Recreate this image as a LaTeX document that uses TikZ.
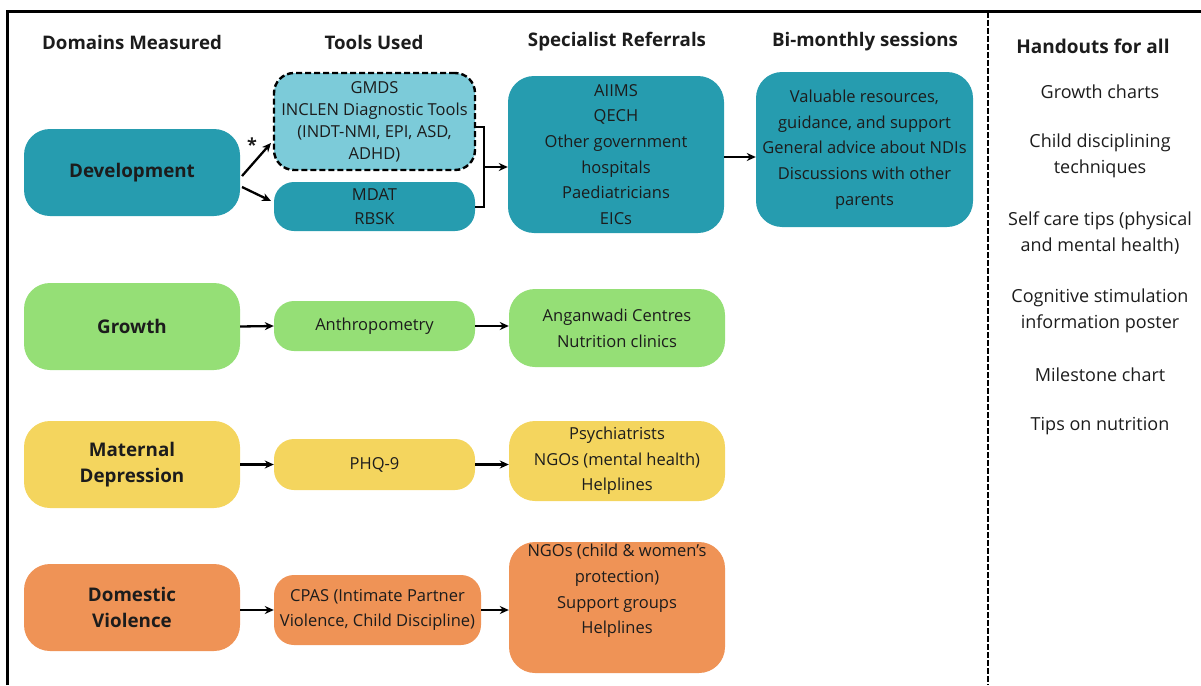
\documentclass[tikz,border=0pt]{standalone}
\usepackage{fontspec}
\setmainfont{Open Sans}
\usetikzlibrary{arrows.meta}
\definecolor{teal1}{HTML}{269CAF}
\definecolor{tealL}{HTML}{7CCBD9}
\definecolor{grn}{HTML}{95DF76}
\definecolor{yel}{HTML}{F4D55E}
\definecolor{org}{HTML}{EF9356}
\definecolor{txt}{HTML}{1C1C1C}
\tikzset{
  box/.style={rounded corners=26pt, inner sep=0pt, align=center, text=txt,
     font=\fontsize{16.5}{25.7}\selectfont},
  dombox/.style={box, minimum width=216pt, minimum height=87pt,
     font=\fontsize{18.8}{26}\selectfont\bfseries},
  toolbox/.style={box, rounded corners=20pt, minimum width=201pt},
  hdr/.style={font=\fontsize{18.7}{22}\selectfont\bfseries, text=txt},
  hand/.style={font=\fontsize{18}{26}\selectfont, text=txt, align=center},
  arr/.style={-{Stealth[length=9pt,width=8pt]}, line width=2.3pt, black},
  brk/.style={line width=2.2pt, black}
}
\begin{document}
\begin{tikzpicture}[x=1pt,y=-1pt]
\useasboundingbox (0,0) rectangle (1201,685);
% frame
\draw[line width=3pt] (7,685) -- (7,12) -- (1201,12);
\draw[line width=2.5pt, dash pattern=on 6pt off 2pt] (988,12) -- (988,685);
% headers
\node[hdr] (h1) at (132,42) {Domains Measured};
\node[hdr] (h2) at (374,42) {Tools Used};
\node[hdr] (h3) at (617,42) {Specialist Referrals};
\node[hdr] (h4) at (865,42) {Bi-monthly sessions};
\node[hdr, font=\fontsize{19}{22}\selectfont\bfseries] (h5) at (1093,46) {Handouts for all};
% handouts
\node[hand] (a1) at (1100,92) {Growth charts};
\node[hand] (a2) at (1100,156) {Child disciplining\\techniques};
\node[hand] (a3) at (1100,233) {Self care tips (physical\\and mental health)};
\node[hand] (a4) at (1100,311) {Cognitive stimulation\\information poster};
\node[hand] (a5) at (1100,375) {Milestone chart};
\node[hand] (a6) at (1100,426) {Tips on nutrition};
% development row
\node[dombox, fill=teal1] (dev) at (132,172.5) {Development};
\node[toolbox, fill=tealL, draw=black, line width=2.4pt, dash pattern=on 6pt off 3pt,
      minimum height=97pt, font=\fontsize{16.5}{22}\selectfont] (gmds) at (374.5,121.5)
      {GMDS\\INCLEN Diagnostic Tools\\(INDT-NMI, EPI, ASD,\\ADHD)};
\node[toolbox, fill=teal1, minimum height=49pt, font=\fontsize{16.5}{24}\selectfont] (mdat) at (374.5,206.5) {MDAT\\RBSK};
\node[box, fill=teal1, minimum width=216pt, minimum height=157pt] (ref) at (616,154.5)
      {AIIMS\\QECH\\Other government\\hospitals\\Paediatricians\\EICs};
\node[box, fill=teal1, minimum width=217pt, minimum height=155pt] (bim) at (864.5,149.5)
      {Valuable resources,\\guidance, and support\\General advice about NDIs\\Discussions with other\\parents};
\coordinate (d1) at (242,176);
\coordinate (d2) at (242,187);
\coordinate (g1) at (271,143);
\coordinate (m1) at (271,201);
\draw[arr] (d1) -- (g1);
\draw[arr] (d2) -- (m1);
\node[font=\fontsize{18}{18}\selectfont\bfseries, text=txt] (star) at (252,145) {*};
\coordinate (bt) at (484,127);
\coordinate (bb) at (484,207);
\coordinate (bm) at (484,167);
\draw[brk] (gmds.east |- bt) -- (bt) -- (bb) -- (mdat.east |- bb);
\draw[arr] (bm) -- (ref.west |- bm);
\coordinate (rb) at (724,157);
\draw[arr] (rb) -- (bim.west |- rb);
% growth row
\node[dombox, fill=grn] (gro) at (132,326.5) {Growth};
\node[toolbox, fill=grn, minimum height=50pt] (ant) at (374.5,326) {Anthropometry};
\node[box, fill=grn, minimum width=216pt, minimum height=78pt] (ang) at (617,328) {Anganwadi Centres\\Nutrition clinics};
\draw[arr] (gro.east) -- (ant.west);
\draw[arr] (ant.east) -- (ang.west |- ant.east);
% maternal row
\node[dombox, fill=yel] (mat) at (132,464.5) {Maternal\\Depression};
\node[toolbox, fill=yel, minimum height=51pt] (phq) at (374.5,464.5) {PHQ-9};
\node[box, fill=yel, minimum width=216pt, minimum height=80pt] (psy) at (617,461) {Psychiatrists\\NGOs (mental health)\\Helplines};
\draw[arr] (mat.east) -- (phq.west);
\draw[arr] (phq.east) -- (psy.west |- phq.east);
% domestic row
\node[dombox, fill=org] (dom) at (132,607.5) {Domestic\\Violence};
\node[toolbox, fill=org, minimum width=207pt, minimum height=70pt] (cpas) at (377.5,610) {CPAS (Intimate Partner\\Violence, Child Discipline)};
\node[box, fill=org, minimum width=216pt, minimum height=131pt] (ngo) at (617,607.5) {};
\node[box] (ngot) at (617,591) {NGOs (child \& women’s\\protection)\\Support groups\\Helplines};
\draw[arr] (dom.east |- cpas.west) -- (cpas.west);
\draw[arr] (cpas.east) -- (ngo.west |- cpas.east);
\end{tikzpicture}
\end{document}
